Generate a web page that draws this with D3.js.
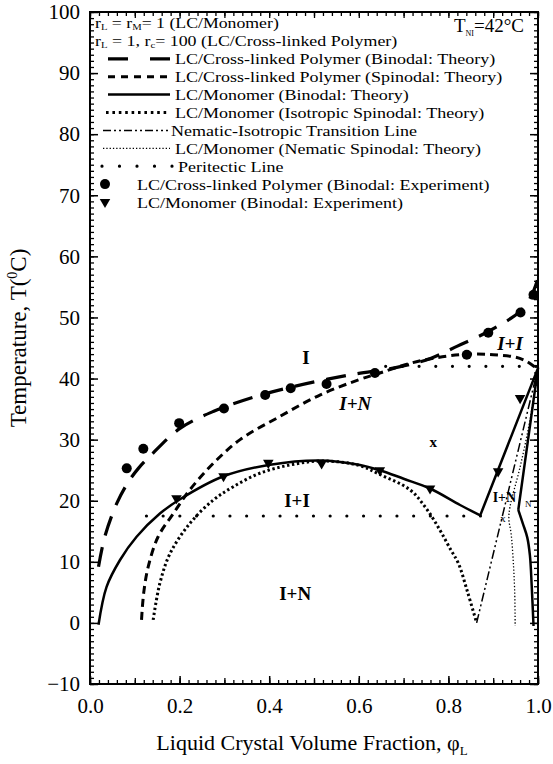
<!DOCTYPE html>
<html>
<head>
<meta charset="utf-8">
<script src="https://cdn.jsdelivr.net/npm/d3@7"></script>
<style>
  body { margin: 0; background: #fff; }
  svg { font-family: "Liberation Serif", "Times New Roman", serif; }
</style>
</head>
<body>
<script>
// values: [phi, T]
const lcpBinodal = [[0.019, 9.2], [0.033, 14.1], [0.06, 19.6], [0.085, 23], [0.108, 25.3], [0.138, 27.6],
  [0.2, 31.8], [0.275, 34.6], [0.372, 37.1], [0.461, 38.8], [0.58, 40.6], [0.69, 41.9], [0.76, 43.3],
  [0.82, 45.3], [0.889, 47.7], [0.96, 51], [0.985, 53.5], [1.0, 56.4]];
const lcpSpinodal = [[0.115, 0.5], [0.12, 5], [0.13, 9.2], [0.152, 14.1], [0.186, 17.9], [0.223, 21.8],
  [0.275, 26.1], [0.335, 30], [0.424, 33.8], [0.513, 37.3], [0.6, 39.8], [0.647, 40.9], [0.72, 42.6],
  [0.8, 43.7], [0.85, 44], [0.9, 43.9], [0.95, 43.5], [0.975, 42.8], [1.0, 41.5]];
const lcmBinodal = [[0.019, -0.3], [0.037, 5.9], [0.067, 10.3], [0.104, 14.1], [0.156, 17.9], [0.2, 20.2],
  [0.298, 24], [0.402, 25.9], [0.513, 26.6], [0.6, 25.9], [0.647, 25], [0.7, 23.6], [0.759, 22],
  [0.826, 19.3], [0.871, 17.6]];
const lcmBinodalRise = [[0.871, 17.6], [1.0, 41.7], [0.956, 18.5]];
const lcmBinodalNem = [[0.956, 18.5], [0.966, 16.3], [0.976, 14], [0.982, 11], [0.986, 6], [0.99, -0.5]];
const lcmIsoSpinodal = [[0.141, 0.5], [0.156, 6.5], [0.179, 11.4], [0.223, 16.3], [0.275, 20.1], [0.32, 22.3],
  [0.379, 24.5], [0.45, 25.9], [0.52, 26.5], [0.6, 25.8], [0.647, 24.3], [0.714, 21.8], [0.75, 18.8],
  [0.781, 15.2], [0.805, 12], [0.822, 9.8], [0.843, 5], [0.863, 0]];
const niLine = [[0.863, 0], [1.0, 41.7]];
const lcmNemSpinodal = [[1.0, 41.7], [0.982, 33.2], [0.96, 25.5], [0.9375, 19], [0.935, 17], [0.94, 14.6],
  [0.945, 9.8], [0.948, 5], [0.949, -0.5]];
const peritectic = [[0.126, 17.5], [0.885, 17.5]];
const upperDotted = [[0.66, 42], [1.0, 42]];

const lcpExp = [[0.082, 25.3], [0.119, 28.5], [0.199, 32.7], [0.299, 35.1], [0.391, 37.3], [0.448, 38.4],
  [0.528, 39.1], [0.636, 40.9], [0.841, 43.9], [0.889, 47.5], [0.961, 50.8], [0.99, 53.7]];
const lcmExp = [[0.193, 20.4], [0.298, 24], [0.398, 26.2], [0.517, 26.1], [0.647, 25], [0.759, 22],
  [0.911, 24.8], [0.96, 36.8]];

const xTicks = [0, 0.2, 0.4, 0.6, 0.8, 1.0];
const yTicks = [-10, 0, 10, 20, 30, 40, 50, 60, 70, 80, 90, 100];

const legendLines = [
  "LC/Cross-linked Polymer (Binodal: Theory)",
  "LC/Cross-linked Polymer (Spinodal: Theory)",
  "LC/Monomer (Binodal: Theory)",
  "LC/Monomer (Isotropic Spinodal: Theory)",
  "Nematic-Isotropic Transition Line",
  "LC/Monomer (Nematic Spinodal: Theory)",
  "Peritectic Line"
];
const legendMarks = [
  "LC/Cross-linked Polymer (Binodal: Experiment)",
  "LC/Monomer (Binodal: Experiment)"
];

// phase region labels: text, phi, T, font size, weight, style
const regionLabels = [
  ["I", 0.482, 43.5, 19, "bold", "normal"],
  ["I+N", 0.592, 36.0, 19, "bold", "italic"],
  ["I+I", 0.9375, 45.8, 19, "bold", "italic"],
  ["I+I", 0.462, 20.1, 19, "bold", "normal"],
  ["I+N", 0.458, 4.9, 19, "bold", "normal"],
  ["x", 0.766, 29.6, 15, "bold", "normal"],
  ["x", 0.922, 17.2, 11, "normal", "normal"],
  ["I+N", 0.925, 20.6, 14, "bold", "normal"],
  ["N", 0.978, 19.5, 9, "normal", "normal"]
];

const W = 553, H = 764;
const padL = 90, padR = 538, padT = 12, padB = 684;

const svg = d3.select("body").append("svg")
  .attr("width", W)
  .attr("height", H);

const x = d3.scaleLinear().domain([0, 1]).range([padL, padR]);
const y = d3.scaleLinear().domain([-10, 100]).range([padB, padT]);

// line styles
const styles = {
  longDash: { w: 3.2, dash: "20,12" },
  shortDash: { w: 3, dash: "8,5" },
  solid: { w: 2.5, dash: null },
  denseDot: { w: 3, dash: "2.4,2.6" },
  dashDot: { w: 1.5, dash: "9,3,2,3,2,3" },
  fineDot: { w: 1.3, dash: "1.3,2" },
  sparseDot: { w: 3.2, dash: "0,16.7" }
};

const smooth = d3.line().x(d => x(d[0])).y(d => y(d[1])).curve(d3.curveCatmullRom.alpha(0.5));
const straight = d3.line().x(d => x(d[0])).y(d => y(d[1]));

function draw(data, st, gen) {
  svg.append("path")
    .attr("d", gen(data))
    .attr("fill", "none")
    .attr("stroke", "#000")
    .attr("stroke-width", st.w)
    .attr("stroke-dasharray", st.dash)
    .attr("stroke-linecap", st === styles.sparseDot ? "round" : "butt")
    .attr("stroke-linejoin", "round");
}

draw(peritectic, styles.sparseDot, straight);
draw(upperDotted, styles.sparseDot, straight);
draw(lcpBinodal, styles.longDash, smooth);
draw(lcpSpinodal, styles.shortDash, smooth);
draw(lcmIsoSpinodal, styles.denseDot, smooth);
draw(lcmNemSpinodal, styles.fineDot, smooth);
draw(niLine, styles.dashDot, straight);
draw(lcmBinodal, styles.solid, smooth);
draw(lcmBinodalRise, styles.solid, straight);
draw(lcmBinodalNem, styles.solid, smooth);

// experiment markers
svg.append("g").selectAll("circle")
  .data(lcpExp)
  .enter()
  .append("circle")
  .attr("cx", d => x(d[0]))
  .attr("cy", d => y(d[1]))
  .attr("r", 5)
  .attr("fill", "#000");

const tri = d3.symbol().type(d3.symbolTriangle).size(48);
svg.append("g").selectAll("path")
  .data(lcmExp)
  .enter()
  .append("path")
  .attr("d", tri)
  .attr("transform", d => "translate(" + x(d[0]) + "," + y(d[1]) + ") rotate(180)")
  .attr("fill", "#000");

// region labels
svg.append("g").selectAll("text")
  .data(regionLabels)
  .enter()
  .append("text")
  .attr("x", d => x(d[1]))
  .attr("y", d => y(d[2]))
  .attr("dy", "0.35em")
  .attr("text-anchor", "middle")
  .attr("font-size", d => d[3])
  .attr("font-weight", d => d[4])
  .attr("font-style", d => d[5])
  .text(d => d[0]);

// axes, ticks pointing inward on all four sides
const xMinor = d3.range(0, 1.0001, 0.02);
const xMid = d3.range(0, 1.0001, 0.1);
const yMinor = d3.range(-10, 100.001, 1);

function tickAxis(axis, vals, len, tr) {
  const g = svg.append("g")
    .attr("transform", tr)
    .call(axis.tickValues(vals).tickSize(-len).tickFormat(""));
  g.select(".domain").remove();
  g.selectAll("line").attr("stroke-width", 1.3);
  return g;
}

tickAxis(d3.axisBottom(x), xMinor, 4, "translate(0," + padB + ")");
tickAxis(d3.axisBottom(x), xMid, 6, "translate(0," + padB + ")");
tickAxis(d3.axisTop(x), xMinor, 4, "translate(0," + padT + ")");
tickAxis(d3.axisTop(x), xMid, 6, "translate(0," + padT + ")");
tickAxis(d3.axisLeft(y), yMinor, 4, "translate(" + padL + ",0)");
tickAxis(d3.axisRight(y), yMinor, 4, "translate(" + padR + ",0)");

const xAxis = svg.append("g")
  .attr("transform", "translate(0," + padB + ")")
  .call(d3.axisBottom(x).tickValues(xTicks).tickSize(-8).tickPadding(14).tickFormat(d3.format(".1f")));
xAxis.select(".domain").remove();
xAxis.selectAll("text").attr("font-size", 21).attr("font-family", "Liberation Serif");
xAxis.selectAll("line").attr("stroke-width", 1.5);

const yAxis = svg.append("g")
  .attr("transform", "translate(" + padL + ",0)")
  .call(d3.axisLeft(y).tickValues(yTicks).tickSize(-8).tickPadding(10));
yAxis.select(".domain").remove();
yAxis.selectAll("text").attr("font-size", 21).attr("font-family", "Liberation Serif");
yAxis.selectAll("line").attr("stroke-width", 1.5);

const yRight = svg.append("g")
  .attr("transform", "translate(" + padR + ",0)")
  .call(d3.axisRight(y).tickValues(yTicks).tickSize(-8).tickFormat(""));
yRight.select(".domain").remove();
yRight.selectAll("line").attr("stroke-width", 1.5);

svg.append("rect")
  .attr("x", padL)
  .attr("y", padT)
  .attr("width", padR - padL)
  .attr("height", padB - padT)
  .attr("fill", "none")
  .attr("stroke", "#000")
  .attr("stroke-width", 2);

// axis titles
const xt = svg.append("text")
  .attr("x", 312)
  .attr("y", 750)
  .attr("text-anchor", "middle")
  .attr("font-size", 22)
  .text("Liquid Crystal Volume Fraction, φ");
xt.append("tspan").attr("font-size", 13).attr("dy", 5).text("L");

const yt = svg.append("text")
  .attr("transform", "translate(26,338) rotate(-90)")
  .attr("text-anchor", "middle")
  .attr("font-size", 23)
  .text("Temperature, T(");
yt.append("tspan").attr("font-size", 14).attr("dy", -9).text("0");
yt.append("tspan").attr("dy", 9).text("C)");

// legend: laid out at 18px, then drawn at 15.5px stretched back to the same width
// so the tightly packed rows keep the reference's wide look without touching
const legend = svg.append("g").attr("font-size", 18);
const rowY = i => 23 + i * 17.9;

function squeeze(t, fs) {
  const len = t.node().getComputedTextLength();
  t.attr("font-size", fs || 15.5)
    .attr("textLength", len)
    .attr("lengthAdjust", "spacingAndGlyphs");
}

const r1 = legend.append("text").attr("x", 95).attr("y", rowY(0) + 5);
r1.append("tspan").text("r");
r1.append("tspan").attr("font-size", 9).attr("dy", 2).text("L");
r1.append("tspan").attr("dy", -2).text(" = r");
r1.append("tspan").attr("font-size", 9).attr("dy", 2).text("M");
r1.append("tspan").attr("dy", -2).text("= 1 (LC/Monomer)");
squeeze(r1, 15);

const r2 = legend.append("text").attr("x", 95).attr("y", rowY(1) + 5);
r2.append("tspan").text("r");
r2.append("tspan").attr("font-size", 9).attr("dy", 2).text("L");
r2.append("tspan").attr("dy", -2).text(" = 1, r");
r2.append("tspan").attr("font-size", 9).attr("dy", 2).text("c");
r2.append("tspan").attr("dy", -2).text("= 100 (LC/Cross-linked Polymer)");
squeeze(r2, 15);

const tni = legend.append("text").attr("x", 524).attr("y", rowY(0) + 9).attr("text-anchor", "end").attr("font-size", 19);
tni.append("tspan").text("T");
tni.append("tspan").attr("font-size", 8).attr("dy", 4).text("NI");
tni.append("tspan").attr("dy", -4).text("=42°C");

const sampleStyles = [
  { st: styles.longDash, x0: 108, x1: 170, dash: "20,22", tx: 175 },
  { st: styles.shortDash, x0: 108, x1: 170, dash: "7,6", tx: 175 },
  { st: styles.solid, x0: 108, x1: 170, dash: null, tx: 175 },
  { st: styles.denseDot, x0: 106, x1: 170, dash: "2.6,3.8", tx: 175 },
  { st: styles.dashDot, x0: 103, x1: 168, dash: "8,3,2,3,2,3", tx: 171 },
  { st: styles.fineDot, x0: 103, x1: 170, dash: "1.3,2", tx: 175 },
  { st: styles.sparseDot, x0: 102, x1: 173, dash: "0,17.5", tx: 178 }
];

legendLines.forEach((label, i) => {
  const s = sampleStyles[i];
  const yy = rowY(i + 2);
  legend.append("line")
    .attr("x1", s.x0).attr("x2", s.x1)
    .attr("y1", yy).attr("y2", yy)
    .attr("stroke", "#000")
    .attr("stroke-width", s.st.w)
    .attr("stroke-dasharray", s.dash)
    .attr("stroke-linecap", s.st === styles.sparseDot ? "round" : "butt");
  const t = legend.append("text")
    .attr("x", s.tx)
    .attr("y", yy + 5.5)
    .text(label);
  squeeze(t);
});

legendMarks.forEach((label, i) => {
  const yy = rowY(i + 9);
  if (i === 0) {
    legend.append("circle").attr("cx", 105).attr("cy", yy).attr("r", 5).attr("fill", "#000");
  } else {
    legend.append("path").attr("d", tri)
      .attr("transform", "translate(105," + yy + ") rotate(180)")
      .attr("fill", "#000");
  }
  const t = legend.append("text").attr("x", 137).attr("y", yy + 5.5).text(label);
  squeeze(t);
});
</script>
</body>
</html>
